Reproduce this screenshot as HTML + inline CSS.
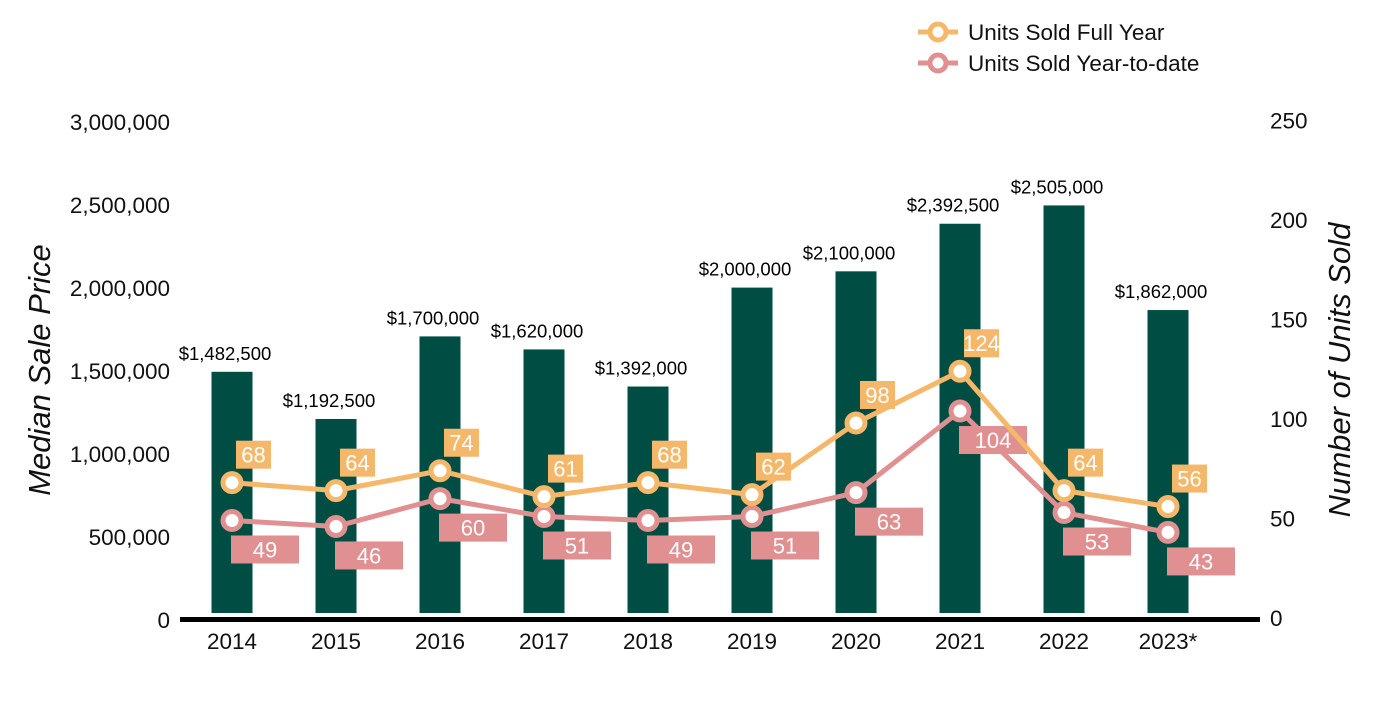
<!DOCTYPE html>
<html><head><meta charset="utf-8"><style>
body{margin:0;background:#fff;font-family:"Liberation Sans",Arial,sans-serif}
svg text{font-family:"Liberation Sans",Arial,sans-serif}
</style></head><body>
<svg id="c" width="1400" height="700" xmlns="http://www.w3.org/2000/svg">
<g id="g"></g>
</svg>
<script>
const years=["2014","2015","2016","2017","2018","2019","2020","2021","2022","2023*"];
const prices=[1482500,1192500,1700000,1620000,1392000,2000000,2100000,2392500,2505000,1862000];
const fullYear=[68,64,74,61,68,62,98,124,64,56];
const ytd=[49,46,60,51,49,51,63,104,53,43];
const leftTicks=[0,500000,1000000,1500000,2000000,2500000,3000000];
const rightTicks=[0,50,100,150,200,250];
const NS="http://www.w3.org/2000/svg";
const g=document.getElementById('g');
function el(t,a,txt){const e=document.createElementNS(NS,t);for(const k in a)e.setAttribute(k,a[k]);if(txt!==undefined)e.textContent=txt;g.appendChild(e);return e;}
const x=i=>232+i*104;
const yL=v=>613-v*162.7/1e6;
const yTick=v=>620-v*166/1e6;
const yR=v=>618-v*1.99;
const fmt=v=>v.toLocaleString('en-US');
leftTicks.forEach(v=>{const t=el('text',{x:170,y:yTick(v)+8,'text-anchor':'end','font-size':22.5,fill:'#111'},fmt(v));

});
rightTicks.forEach(v=>{const t=el('text',{x:1270,y:yR(v)+8,'font-size':22.5,fill:'#111'},v);

});
let t=el('text',{transform:'translate(50,370) rotate(-90)','text-anchor':'middle','font-size':31,'font-style':'italic',fill:'#111'},'Median Sale Price');

t=el('text',{transform:'translate(1350,370) rotate(-90)','text-anchor':'middle','font-size':31,'font-style':'italic',fill:'#111'},'Number of Units Sold');

prices.forEach((v,i)=>{const r=el('rect',{x:x(i)-20.5,y:yL(v),width:41,height:613-yL(v),fill:'#004d43'});


const l=el('text',{x:x(i)-7,y:yL(v)-12,'text-anchor':'middle','font-size':18.5,fill:'#000'},'$'+fmt(v));

});
const ax=el('rect',{x:180,y:617,width:1080,height:5,fill:'#000'});

years.forEach((y,i)=>{const l=el('text',{x:x(i),y:649,'text-anchor':'middle','font-size':22.5,fill:'#111'},y);

});
function series(d,col,name,above){
 const p=el('polyline',{points:d.map((v,i)=>x(i)+','+yR(v)).join(' '),fill:'none',stroke:col,'stroke-width':5});
 
 
 d.forEach((v,i)=>{const c=el('circle',{cx:x(i),cy:yR(v),r:9,fill:'#fff',stroke:col,'stroke-width':5});
 
 
 const w=above?35:68,bx=above?x(i)+4:x(i)-1,by=above?yR(v)-42:yR(v)+15;
 const b=el('rect',{x:bx,y:by,width:w,height:28,fill:col});
 
 
 const l=el('text',{x:bx+w/2,y:by+22,'text-anchor':'middle','font-size':22,fill:'#fff'},v);
 
 });
}
series(ytd,'#e09090','ytd',false);
series(fullYear,'#f5b76a','full-year',true);
[['#f5b76a','Units Sold Full Year',32],['#e09090','Units Sold Year-to-date',63]].forEach(([c,n,y])=>{
 const l=el('line',{x1:918,y1:y,x2:958,y2:y,stroke:c,'stroke-width':5});
 
 const ci=el('circle',{cx:938,cy:y,r:8,fill:'#fff',stroke:c,'stroke-width':5});
 
 const tx=el('text',{x:968,y:y+8,'font-size':22.5,fill:'#111'},n);
 
});
</script>
</body></html>
